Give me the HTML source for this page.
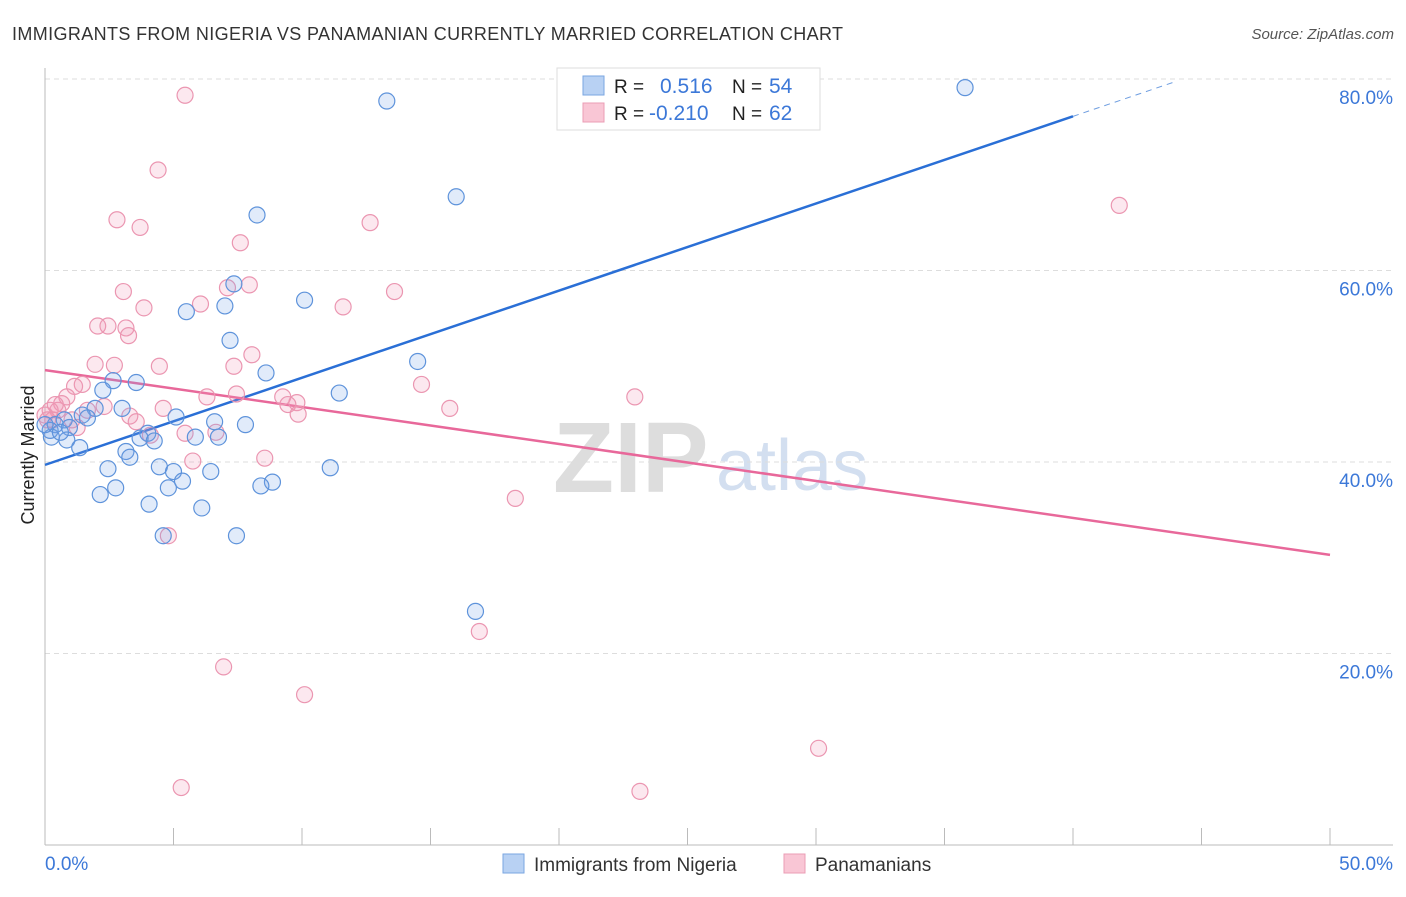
<!DOCTYPE html>
<html><head><meta charset="utf-8"><style>
body{margin:0;background:#fff;font-family:"Liberation Sans",sans-serif;}
svg text{font-family:"Liberation Sans",sans-serif;}
</style></head><body>
<svg id="chart" width="1406" height="892" xmlns="http://www.w3.org/2000/svg">
<text x="12" y="40" font-size="18" fill="#333" textLength="831">IMMIGRANTS FROM NIGERIA VS PANAMANIAN CURRENTLY MARRIED CORRELATION CHART</text>
<text x="1394" y="39" font-size="15" fill="#555" font-style="italic" text-anchor="end">Source: ZipAtlas.com</text>
<g><text x="553" y="492" font-size="100" font-family="Liberation Serif,serif" fill="#ddd" font-weight="bold">ZIP</text><text x="716" y="490" font-size="72" fill="#d3dff0">atlas</text></g>
<g id="grid"></g>
<g id="axes"></g>
<g id="lines"></g>
<g id="pts"></g>
<text x="34" y="455" font-size="18" fill="#222" text-anchor="middle" transform="rotate(-90 34 455)">Currently Married</text>
<g>
<rect x="557" y="68" width="263" height="62" fill="#fff" stroke="#ddd"/>
<rect x="583" y="76" width="21" height="19" fill="#b8d1f3" stroke="#7aa6e2"/>
<rect x="583" y="103" width="21" height="19" fill="#f9c6d5" stroke="#eb9db5"/>
<text x="614" y="93" font-size="19" fill="#222">R = </text><text x="660" y="93" font-size="21" fill="#3c78d8">0.516</text>
<text x="732" y="93" font-size="19" fill="#222">N = </text><text x="769" y="93" font-size="21" fill="#3c78d8">54</text>
<text x="614" y="120" font-size="19" fill="#222">R = </text><text x="649" y="120" font-size="21" fill="#3c78d8">-0.210</text>
<text x="732" y="120" font-size="19" fill="#222">N = </text><text x="769" y="120" font-size="21" fill="#3c78d8">62</text>
</g>
<g>
<rect x="503" y="854" width="21" height="19" fill="#b8d1f3" stroke="#7aa6e2"/>
<text x="534" y="871" font-size="19" fill="#333">Immigrants from Nigeria</text>
<rect x="784" y="854" width="21" height="19" fill="#f9c6d5" stroke="#eb9db5"/>
<text x="815" y="871" font-size="19" fill="#333">Panamanians</text>
</g>
</svg>
<script>
const yTicks=[20,40,60,80];
const yTickLabels=["20.0%","40.0%","60.0%","80.0%"];
const xTickVals=[0,5,10,15,20,25,30,35,40,45,50];
const xEndLabels=["0.0%","50.0%"];
const blueX=[13.3,35.8,16.0,8.25,7.35,10.1,5.5,7.0,7.2,14.5,8.6,2.65,3.55,2.25,11.45,3.0,1.95,5.1,6.6,7.8,1.45,1.65,0.75,0.4,0.95,4.0,5.85,6.75,3.7,4.25,0.25,0.85,1.35,3.15,3.3,4.45,2.45,5.0,6.45,11.1,5.35,4.8,8.85,8.4,2.75,2.15,4.05,6.1,4.6,7.45,16.75,0.2,0.6,0];
const blueY=[77.7,79.1,67.7,65.8,58.6,56.9,55.7,56.3,52.7,50.5,49.3,48.5,48.3,47.5,47.2,45.6,45.6,44.7,44.2,43.9,44.9,44.6,44.4,43.9,43.6,43.0,42.6,42.6,42.5,42.2,42.6,42.3,41.5,41.1,40.5,39.5,39.3,39.0,39.0,39.4,38.0,37.3,37.9,37.5,37.3,36.6,35.6,35.2,32.3,32.3,24.4,43.3,43.1,43.9];
const pinkX=[5.45,4.4,2.8,3.7,12.65,7.6,41.8,3.05,7.95,7.1,6.05,3.85,11.6,13.6,2.05,2.45,3.15,3.25,1.95,2.7,4.45,7.35,8.05,14.65,1.15,1.45,0.85,0.65,9.25,6.3,7.45,9.8,9.45,9.85,4.6,3.3,2.3,15.75,22.95,0.5,0.2,0,0.3,1.65,1.25,3.55,4.1,5.45,6.65,5.75,8.55,18.3,4.8,16.9,6.95,10.1,30.1,5.3,23.15,0.4,0.1,1.05];
const pinkY=[78.3,70.5,65.3,64.5,65.0,62.9,66.8,57.8,58.5,58.2,56.5,56.1,56.2,57.8,54.2,54.2,54.0,53.2,50.2,50.1,50.0,50.0,51.2,48.1,47.9,48.1,46.8,46.1,46.8,46.8,47.1,46.2,46.0,45.0,45.6,44.8,45.8,45.6,46.8,45.4,45.4,44.9,44.4,45.4,43.6,44.2,42.8,43.0,43.1,40.1,40.4,36.2,32.3,22.3,18.6,15.7,10.1,6.0,5.6,46.0,44.4,44.4];
const blueTrend=[39.7,0.91];
const pinkTrend=[49.6,-0.386];
const NS="http://www.w3.org/2000/svg";
const X=v=>45+v*25.7, Y=v=>845-v*9.575;
function mk(p,t,a){const e=document.createElementNS(NS,t);for(const k in a)e.setAttribute(k,a[k]);p.appendChild(e);return e;}
const grid=document.getElementById('grid'),axes=document.getElementById('axes');
yTicks.forEach((t,i)=>{
 const l=mk(grid,'line',{x1:45,x2:1393,y1:Y(t),y2:Y(t),stroke:'#ddd','stroke-dasharray':'5,4'});
 
 
 const tx=mk(axes,'text',{x:1393,y:Y(t)+25,'font-size':19,fill:'#3c78d8','text-anchor':'end'});tx.textContent=yTickLabels[i];
 
 
});
mk(axes,'line',{x1:45,x2:45,y1:68,y2:845,stroke:'#bbb'});
mk(axes,'line',{x1:45,x2:1393,y1:845,y2:845,stroke:'#bbb'});
xTickVals.forEach(v=>{const t=mk(axes,'line',{x1:X(v),x2:X(v),y1:828,y2:845,stroke:'#bbb'});
 
 });
let a=mk(axes,'text',{x:45,y:870,'font-size':19,fill:'#3c78d8'});a.textContent=xEndLabels[0];


a=mk(axes,'text',{x:1393,y:870,'font-size':19,fill:'#3c78d8','text-anchor':'end'});a.textContent=xEndLabels[1];


const pts=document.getElementById('pts');
pinkX.forEach((x,i)=>{const c=mk(pts,'circle',{cx:X(x),cy:Y(pinkY[i]),r:8,fill:'rgba(243,150,180,0.22)',stroke:'#eb96b1','stroke-width':1.2});
 
 });
blueX.forEach((x,i)=>{const c=mk(pts,'circle',{cx:X(x),cy:Y(blueY[i]),r:8,fill:'rgba(120,165,230,0.22)',stroke:'#5e93db','stroke-width':1.2});
 
 });
const lines=document.getElementById('lines');
const bf=v=>blueTrend[0]+blueTrend[1]*v, pf=v=>pinkTrend[0]+pinkTrend[1]*v;
let l=mk(lines,'line',{x1:X(0),y1:Y(bf(0)),x2:X(40),y2:Y(bf(40)),stroke:'#2a6fd6','stroke-width':2.5});


l=mk(lines,'line',{x1:X(40),y1:Y(bf(40)),x2:X(44),y2:Y(bf(44)),stroke:'#6f9ee0','stroke-width':1,'stroke-dasharray':'6,5'});


l=mk(lines,'line',{x1:X(0),y1:Y(pf(0)),x2:X(50),y2:Y(pf(50)),stroke:'#e8689a','stroke-width':2.5});


</script>
</body></html>
